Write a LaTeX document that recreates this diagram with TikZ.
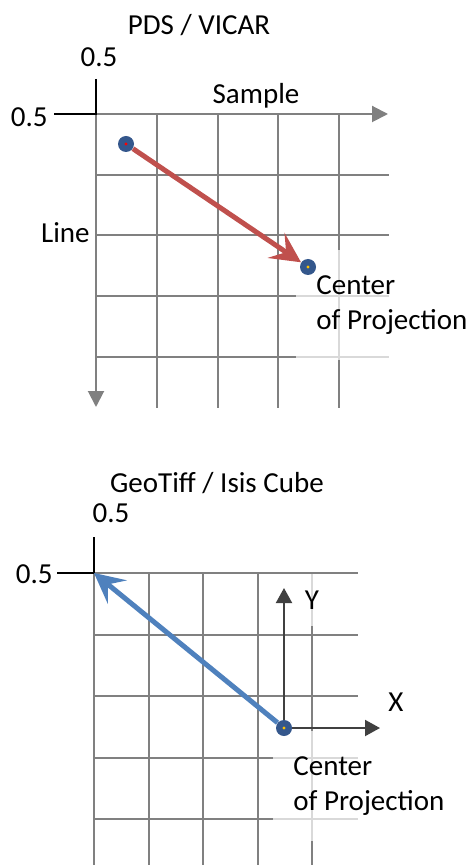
\documentclass[tikz,border=0pt]{standalone}
\usepackage{fontspec}
\setmainfont{Carlito}
\usetikzlibrary{arrows.meta}
\definecolor{gridgray}{HTML}{808080}
\definecolor{dotblue}{HTML}{34578C}
\definecolor{arrred}{HTML}{C0504D}
\definecolor{arrblue}{HTML}{4F81BD}
\definecolor{axdark}{HTML}{404040}
\definecolor{coryellow}{HTML}{FFC000}
\tikzset{
  gridline/.style={color=gridgray, line width=1pt},
  tickline/.style={black, line width=0.6pt},
  axisarrow/.style={gridline, -{Triangle[length=8pt,width=8pt]}},
  xyarrow/.style={axdark, line width=1pt, -{Triangle[length=7.5pt,width=8pt]}},
  bigarrow/.style={line width=2.5pt, -{Stealth[length=15pt,width=15pt,inset=6pt]}},
  pixdot/.style={circle, fill=dotblue, minimum size=8pt, inner sep=0pt},
  lightbox/.style={fill=white, fill opacity=0.7, text opacity=1, inner xsep=10pt, align=left},
}
\begin{document}
\begin{tikzpicture}[x=0.5pt, y=-0.5pt, font=\fontsize{14.5pt}{17.5pt}\selectfont]
  \useasboundingbox (0,0) rectangle (474,865);
  % PDS / VICAR, line counts downwards
  \def\ox{96} \def\oy{114} \def\cw{60.75}
  \coordinate (org) at (\ox,\oy);
  \coordinate (sampleend) at (388,\oy);
  \coordinate (lineend) at (\ox,407);
  \foreach \i in {1,...,4}{
    \draw[gridline] (\ox+\i*\cw,\oy) -- (\ox+\i*\cw,408);
    \draw[gridline] (\ox,\oy+\i*\cw) -- (389,\oy+\i*\cw);
  }
  \draw[axisarrow] (org) -- (sampleend);
  \draw[axisarrow] (org) -- (lineend);
  \draw[tickline] (\ox,79) -- (org) -- (54,\oy);
  \node[anchor=base] (title) at (199,35) {PDS / VICAR};
  \node[anchor=base] (halftop) at (99,67) {0.5};
  \node[anchor=base east, inner sep=0pt] (halfleft) at (48,127) {0.5};
  \node[anchor=base] (sample) at (256,104) {Sample};
  \node[anchor=base east, inner sep=0pt] (line) at (90,243) {Line};
  \node[lightbox, anchor=west, minimum height=54.5pt] (coptext) at (296,305) {Center\\of Projection};
  \node[pixdot] (src) at (126,144) {};
  \node[pixdot] (cop) at (308,267) {};
  \draw[bigarrow, arrred] (src) -- (cop);
  \fill[red] (src.center) circle (1.7);
  \fill[coryellow] (cop.center) circle (1.7);

  % GeoTiff / Isis Cube, y counts upwards from the centre
  \def\gx{94} \def\gy{573} \def\gw{54.5} \def\gh{61.5}
  \coordinate (org2) at (\gx,\gy);
  \foreach \i in {0,...,4}{
    \draw[gridline] (\gx+\i*\gw,\gy) -- (\gx+\i*\gw,865);
    \draw[gridline] (\gx,\gy+\i*\gh) -- (358,\gy+\i*\gh);
  }
  \draw[tickline] (\gx,537) -- (org2) -- (57,\gy);
  \node[anchor=base] (title2) at (217,492) {GeoTiff / Isis Cube};
  \node[anchor=base] (halftop2) at (111,522) {0.5};
  \node[anchor=base east, inner sep=0pt] (halfleft2) at (53,583) {0.5};
  \node[lightbox, inner sep=0pt, minimum width=26pt, minimum height=26pt] (ylab) at (312,600) {Y};
  \node[anchor=base] (xlab) at (396,711) {X};
  \node[lightbox, anchor=west, minimum height=55pt] (coptext2) at (273,786) {Center\\of Projection};
  \coordinate (yend) at (284,588);
  \coordinate (xend) at (380,728);
  \node[pixdot] (cop2) at (284,728) {};
  \draw[xyarrow] (cop2) -- (yend);
  \draw[xyarrow] (cop2) -- (xend);
  \draw[bigarrow, arrblue] (cop2) -- (org2);
  \fill[coryellow] (cop2.center) circle (1.7);
\end{tikzpicture}
\end{document}
